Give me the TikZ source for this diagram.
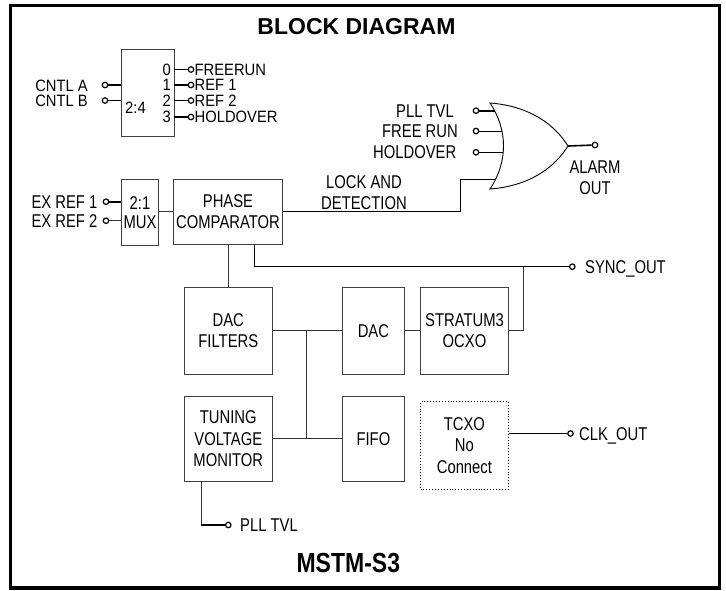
\documentclass[tikz,border=0pt]{standalone}
\usepackage{fontspec}
\setmainfont{Liberation Sans}
\newfontfamily\narrowsans{Liberation Sans}[FakeStretch=0.8]
\newfontfamily\midsans{Liberation Sans}[FakeStretch=0.9]
\begin{document}
\begin{tikzpicture}[x=1pt,y=-1pt,
  every node/.style={font=\narrowsans\fontsize{18.5}{21.5}\selectfont, inner sep=0pt},
  blk/.style={draw=black!75, line width=0.9pt, align=center},
  wire/.style={draw=black!80, line width=0.9pt},
  stub/.style={draw=black, line width=1.6pt},
  pin/.style={circle, draw=black, line width=1.2pt, fill=white, minimum size=5.5pt},
  lbl/.style={text height=13.2pt, text depth=0pt},
  sm/.style={font=\midsans\fontsize{16.4}{19}\selectfont, text height=11.8pt, text depth=0pt},
  ttl/.style={font=\fontsize{23}{27}\selectfont\bfseries}
]
\useasboundingbox (0,0) rectangle (726,590);
\draw[line width=3.5pt] (10.3,5.3) rectangle (719.7,588);

% titles
\node[ttl] (title) at (356.5,26.7) {BLOCK DIAGRAM};
\node[ttl] (name) at (348.3,562.7) {\scalebox{1}[1.2]{MSTM-S3}};

% 2:4 decoder
\node[blk, minimum width=53pt, minimum height=87pt] (dec) at (147.5,92.5) {};
\node[sm, anchor=east] (d0) at (171,69.5) {0};
\node[sm, anchor=east] (d1) at (171,85) {1};
\node[sm, anchor=east] (d2) at (171,100.5) {2};
\node[sm, anchor=east] (d3) at (171,117) {3};
\node[sm, anchor=west] (d24) at (125,108) {2:4};
\node[pin] (pca) at (105,85) {};
\node[pin] (pcb) at (105,100.5) {};
\node[sm, anchor=east] (tca) at (88,85.5) {CNTL A};
\node[sm, anchor=east] (tcb) at (88,101) {CNTL B};
\draw[stub] (pca) -- (pca -| dec.west);
\draw[stub] (pcb) -- (pcb -| dec.west);
\node[pin] (po0) at (191,69.5) {};
\node[pin] (po1) at (191,85) {};
\node[pin] (po2) at (191,100.5) {};
\node[pin] (po3) at (191,117) {};
\draw[stub] (po0 -| dec.east) -- (po0);
\draw[stub] (po1 -| dec.east) -- (po1);
\draw[stub] (po2 -| dec.east) -- (po2);
\draw[stub] (po3 -| dec.east) -- (po3);
\node[sm, anchor=west] (to0) at (194.5,69.5) {FREERUN};
\node[sm, anchor=west] (to1) at (194.5,85) {REF 1};
\node[sm, anchor=west] (to2) at (194.5,100.5) {REF 2};
\node[sm, anchor=west] (to3) at (194.5,117) {HOLDOVER};

% OR gate
\draw[line width=0.9pt] (490,103) .. controls (530,106) and (555,125) .. (568,146)
  .. controls (555,167) and (530,186) .. (490,189)
  .. controls (508,162) and (508,130) .. (490,103) -- cycle;
\coordinate (gout) at (568,146);
\coordinate (gi1) at (494.9,110.7);
\coordinate (gi2) at (501.9,131);
\coordinate (gi3) at (503.2,152.3);
\coordinate (gi4) at (495.5,179.3);
\node[pin] (pg1) at (476,110.7) {};
\node[pin] (pg2) at (476,131) {};
\node[pin] (pg3) at (476,152.3) {};
\draw[stub] (pg1) -- (gi1);
\draw[wire,draw=black] (pg2) -- (gi2);
\draw[wire,draw=black] (pg3) -- (gi3);
\node[lbl, anchor=east] (tg1) at (454,110.7) {PLL TVL};
\node[lbl, anchor=east] (tg2) at (458,131) {FREE RUN};
\node[lbl, anchor=east] (tg3) at (456.5,152.3) {HOLDOVER};
\node[pin] (palarm) at (595,145) {};
\draw[stub] (gout) -- (palarm);
\node[align=center] (talarm) at (595,177.5) {ALARM\\OUT};

% mux and phase comparator
\node[blk, minimum width=36.6pt, minimum height=65.7pt, font=\narrowsans\fontsize{18.5}{19}\selectfont] (mux) at (140,212.2) {2:1\\MUX};
\node[blk, minimum width=109.4pt, minimum height=64.7pt] (pc) at (228,211.7) {PHASE\\COMPARATOR};
\node[pin] (pex1) at (106,201.7) {};
\node[pin] (pex2) at (106,220.7) {};
\draw[stub] (pex1) -- (pex1 -| mux.west);
\draw[wire] (pex2) -- (pex2 -| mux.west);
\node[lbl, anchor=east] (tex1) at (97.5,202) {EX REF 1};
\node[lbl, anchor=east] (tex2) at (97.5,221) {EX REF 2};
\draw[wire] (pc.west -| mux.east) -- (pc.west);

% lock and detection
\coordinate (lk) at (460,179.3);
\draw[wire,draw=black] (pc.east) -- (pc.east -| lk) -- (lk) -- (gi4);
\node[align=center] (tlock) at (364,192.5) {LOCK AND\\DETECTION};

% lower blocks
\node[blk, minimum width=88pt, minimum height=86.7pt] (dacf) at (228.3,330.7) {DAC\\FILTERS};
\node[blk, minimum width=88pt, minimum height=85.7pt] (tvm) at (228.3,438.9) {TUNING\\VOLTAGE\\MONITOR};
\node[blk, minimum width=62.2pt, minimum height=86.7pt] (dac) at (373.4,330.7) {DAC};
\node[blk, minimum width=88.4pt, minimum height=86.7pt] (strat) at (464.5,330.7) {STRATUM3\\OCXO};
\node[blk, minimum width=62.2pt, minimum height=85.7pt] (fifo) at (373.4,438.9) {FIFO};
\node[blk, dotted, draw=black, minimum width=87.8pt, minimum height=87.3pt] (tcxo) at (464.4,445.4) {TCXO\\No\\Connect};

% connections
\draw[wire] (pc.south) -- (pc.south |- dacf.north);
\coordinate (sy) at (254.3,266.7);
\coordinate (sj) at (523,266.7);
\node[pin] (psync) at (572.3,266.7) {};
\node[lbl, anchor=west] (tsync) at (585,266.7) {SYNC\_OUT};
\draw[wire,draw=black] (sy |- pc.south) -- (sy) -- (psync);
\draw[wire] (sj) -- (sj |- strat.east) -- (strat.east);

\coordinate (jx) at (306.7,331);
\draw[wire] (dacf.east) -- (dac.west);
\draw[wire] (jx) -- (jx |- tvm.east);
\draw[wire] (tvm.east) -- (fifo.west);
\draw[wire] (dac.east) -- (strat.west);

\node[pin] (pclk) at (570.5,433.5) {};
\node[lbl, anchor=west] (tclk) at (579,433.5) {CLK\_OUT};
\draw[wire,draw=black] (tcxo.east |- pclk) -- (pclk);

\coordinate (tv) at (201,525);
\node[pin] (ptv) at (228.3,525) {};
\node[lbl, anchor=west] (ttv) at (240,525) {PLL TVL};
\draw[wire] (tv |- tvm.south) -- (tv);
\draw[stub] (tv) -- (ptv);
\end{tikzpicture}
\end{document}
